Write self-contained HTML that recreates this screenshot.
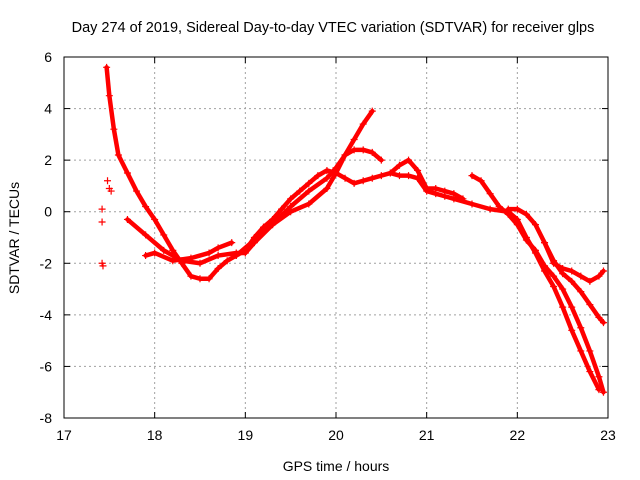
<!DOCTYPE html>
<html><head><meta charset="utf-8"><style>
body{margin:0;background:#fff;}
svg{display:block;font-family:"Liberation Sans",sans-serif;}
</style></head><body>
<svg id="chart" width="640" height="480" xmlns="http://www.w3.org/2000/svg">
<rect width="640" height="480" fill="#fff"/>
<text x="333" y="32" text-anchor="middle" font-size="14.5">Day 274 of 2019, Sidereal Day-to-day VTEC variation (SDTVAR) for receiver glps</text>
<text x="336" y="471" text-anchor="middle" font-size="14">GPS time / hours</text>
<text transform="translate(19,238) rotate(-90)" text-anchor="middle" font-size="14">SDTVAR / TECUs</text>
<g id="grid"></g><g id="ticks"></g><g id="marks"></g>
<rect x="64" y="57" width="544" height="361" fill="none" stroke="#000" stroke-width="1"/>
</svg>
<script>
const xTicks=[17,18,19,20,21,22,23];
const yTicks=[6,4,2,0,-2,-4,-6,-8];
const trackA=[[17.47,5.6],[17.5,4.5],[17.55,3.2],[17.6,2.2],[17.7,1.5],[17.8,0.8],[17.9,0.2],[18.0,-0.3],[18.1,-0.9],[18.2,-1.5],[18.3,-2.0],[18.4,-2.5],[18.5,-2.6],[18.6,-2.6],[18.7,-2.2],[18.8,-1.9],[18.9,-1.7],[19.0,-1.5],[19.1,-1.0],[19.2,-0.6],[19.3,-0.3],[19.4,0.1],[19.5,0.5],[19.6,0.8],[19.7,1.1],[19.8,1.4],[19.9,1.6],[20.0,1.5],[20.1,1.3],[20.2,1.1],[20.3,1.2],[20.4,1.3],[20.5,1.4],[20.6,1.5],[20.7,1.4],[20.8,1.4],[20.9,1.3],[21.0,0.8],[21.1,0.7],[21.2,0.6],[21.3,0.5],[21.5,0.3],[21.7,0.1],[21.9,0.0],[22.0,-0.3],[22.1,-1.0],[22.2,-1.6],[22.3,-2.3],[22.4,-2.9],[22.5,-3.7],[22.6,-4.6],[22.7,-5.4],[22.8,-6.2],[22.9,-6.9]];
const trackB=[[17.7,-0.3],[17.9,-0.9],[18.1,-1.5],[18.3,-1.9],[18.5,-2.0],[18.7,-1.7],[18.9,-1.6],[19.0,-1.6],[19.1,-1.2],[19.3,-0.5],[19.5,0.0],[19.7,0.3],[19.9,0.9],[20.0,1.5],[20.1,2.2],[20.2,2.8],[20.3,3.4],[20.4,3.9]];
const trackC=[[17.9,-1.7],[18.0,-1.6],[18.2,-1.9],[18.4,-1.8],[18.6,-1.6],[18.7,-1.4],[18.85,-1.2]];
const trackD=[[18.9,-1.7],[19.1,-1.1],[19.3,-0.5],[19.5,0.2],[19.7,0.8],[19.9,1.3],[20.0,1.7],[20.1,2.2],[20.2,2.4],[20.3,2.4],[20.4,2.3],[20.5,2.0]];
const trackE=[[20.6,1.5],[20.7,1.8],[20.8,2.0],[20.9,1.6],[21.0,0.9],[21.1,0.9],[21.2,0.8],[21.3,0.7],[21.4,0.5]];
const trackF=[[21.5,1.4],[21.6,1.2],[21.7,0.7],[21.8,0.2],[21.9,-0.1],[22.0,-0.5],[22.1,-1.1],[22.2,-1.5],[22.3,-2.1],[22.4,-2.5],[22.5,-3.0],[22.6,-3.7],[22.7,-4.5],[22.8,-5.4],[22.9,-6.4],[22.95,-7.0]];
const trackG=[[21.9,0.1],[22.0,0.1],[22.1,-0.1],[22.2,-0.5],[22.3,-1.2],[22.4,-2.0],[22.5,-2.2],[22.6,-2.3],[22.7,-2.5],[22.8,-2.7],[22.9,-2.5],[22.95,-2.3]];
const trackH=[[22.3,-1.2],[22.4,-1.9],[22.5,-2.4],[22.6,-2.7],[22.7,-3.1],[22.8,-3.6],[22.9,-4.1],[22.95,-4.3]];
const fragments=[[17.42,0.1],[17.42,-0.4],[17.42,-2.0],[17.43,-2.1],[17.48,1.2],[17.5,0.9],[17.52,0.8]];

const X0=64,X1=608,Y0=418,Y1=57;
const xs=h=>X0+(h-17)/6*(X1-X0);
const ys=v=>Y0-(v+8)/14*(Y0-Y1);
const NS="http://www.w3.org/2000/svg";
function mk(tag,at,parent){const e=document.createElementNS(NS,tag);for(const k in at)e.setAttribute(k,at[k]);parent.appendChild(e);return e;}
const grid=document.getElementById('grid'),ticks=document.getElementById('ticks'),marks=document.getElementById('marks');
xTicks.forEach(t=>{const x=xs(t);
 if(t>17&&t<23){const g=mk('line',{x1:x,x2:x,y1:Y1,y2:Y0,stroke:'#a0a0a0','stroke-dasharray':'2,3'},grid);
 
 }
 mk('line',{x1:x,x2:x,y1:Y0,y2:Y0-6,stroke:'#000'},ticks);mk('line',{x1:x,x2:x,y1:Y1,y2:Y1+6,stroke:'#000'},ticks);
 const l=mk('text',{x:x,y:Y0+22,'text-anchor':'middle','font-size':'14'},ticks);l.textContent=t;
 
 });
yTicks.forEach(t=>{const y=ys(t);
 if(t<6&&t>-8){const g=mk('line',{x1:X0,x2:X1,y1:y,y2:y,stroke:'#a0a0a0','stroke-dasharray':'2,3'},grid);
 
 }
 mk('line',{x1:X0,x2:X0+6,y1:y,y2:y,stroke:'#000'},ticks);mk('line',{x1:X1,x2:X1-6,y1:y,y2:y,stroke:'#000'},ticks);
 const l=mk('text',{x:X0-12,y:y+5,'text-anchor':'end','font-size':'14'},ticks);l.textContent=t;
 
 });
function plus(g,h,v){const x=xs(h),y=ys(v);mk('path',{d:`M${x-3.5},${y}H${x+3.5}M${x},${y-3.5}V${y+3.5}`,stroke:'#f00','stroke-width':1.2,fill:'none'},g);}
[['track-a',trackA],['track-b',trackB],['track-c',trackC],['track-d',trackD],['track-e',trackE],['track-f',trackF],['track-g',trackG],['track-h',trackH]].forEach(([n,tr])=>{
 const g=mk('g',{},marks);
 
 
 mk('polyline',{points:tr.map(p=>xs(p[0])+','+ys(p[1])).join(' '),fill:'none',stroke:'#f00','stroke-width':4.5,'stroke-linejoin':'round','stroke-linecap':'round'},g);
 tr.forEach(p=>plus(g,p[0],p[1]));});
const fg=mk('g',{},marks);


fragments.forEach(p=>plus(fg,p[0],p[1]));
</script>
</body></html>
